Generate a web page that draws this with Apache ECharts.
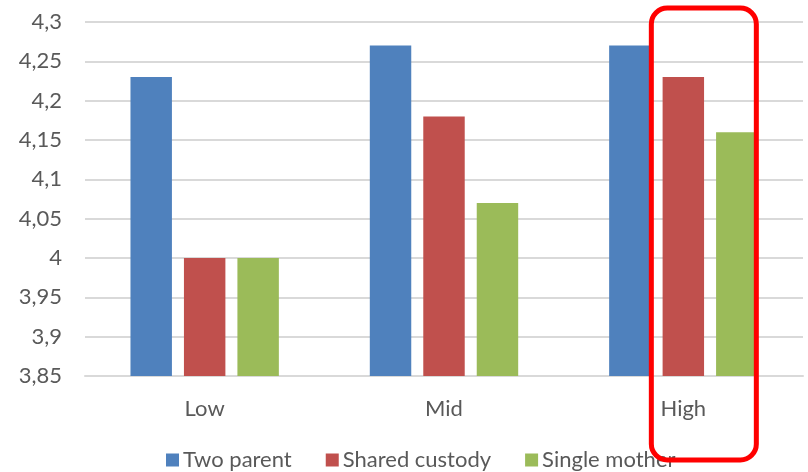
<!DOCTYPE html>
<html>
<head>
<meta charset="utf-8">
<script src="https://cdn.jsdelivr.net/npm/echarts@6/dist/echarts.min.js"></script>
<style>
  html, body { margin: 0; padding: 0; background: #fff; }
  #chart { width: 808px; height: 472px; }
</style>
</head>
<body>
<div id="chart"></div>
<script>
// Income groups and mean scores per family type
var categories = ['Low', 'Mid', 'High'];
var twoParent = [4.23, 4.27, 4.27];
var sharedCustody = [4.00, 4.18, 4.23];
var singleMother = [4.00, 4.07, 4.16];
var seriesNames = ['Two parent', 'Shared custody', 'Single mother'];
var highlightCategory = 'High';

var FONT = 'Lato, "Open Sans", sans-serif';
var TEXT = '#595959';

var chart = echarts.init(document.getElementById('chart'), null, { renderer: 'canvas' });

function fmt(v) {
  return String(Math.round(v * 100) / 100).replace('.', ',');
}

chart.setOption({
  animation: false,
  backgroundColor: '#ffffff',
  grid: { left: 85, right: 5, top: 22, bottom: 96, containLabel: false },
  legend: {
    data: seriesNames,
    bottom: -4,
    left: 161,
    itemWidth: 13,
    itemHeight: 13,
    itemGap: 34,
    icon: 'rect',
    textStyle: { fontFamily: FONT, fontSize: 22, color: TEXT, padding: [0, 0, 0, -1] }
  },
  xAxis: {
    type: 'category',
    data: categories,
    axisLine: { show: true, lineStyle: { color: '#D9D9D9', width: 2 } },
    axisTick: { show: false },
    axisLabel: { fontFamily: FONT, fontSize: 22, color: TEXT, margin: 22 }
  },
  yAxis: {
    type: 'value',
    min: 3.85,
    max: 4.3,
    interval: 0.05,
    axisLine: { show: false },
    axisTick: { show: false },
    splitLine: { lineStyle: { color: '#D9D9D9', width: 2 } },
    axisLabel: { fontFamily: FONT, fontSize: 22, color: TEXT, margin: 23, formatter: fmt }
  },
  series: [
    { name: seriesNames[0], type: 'bar', data: twoParent, itemStyle: { color: '#4F81BD' },
      barGap: '29%', barCategoryGap: '38%' },
    { name: seriesNames[1], type: 'bar', data: sharedCustody, itemStyle: { color: '#C0504D' } },
    { name: seriesNames[2], type: 'bar', data: singleMother, itemStyle: { color: '#9BBB59' } }
  ]
});

// Rounded red frame around the High group's shared-custody and single-mother bars
var cx = chart.convertToPixel({ xAxisIndex: 0 }, highlightCategory);
chart.setOption({
  graphic: [{
    type: 'rect',
    shape: { x: cx - 32, y: 8, width: 105, height: 452, r: 16 },
    style: { fill: 'none', stroke: '#FF0000', lineWidth: 5 },
    z: 100
  }]
});
</script>
</body>
</html>
